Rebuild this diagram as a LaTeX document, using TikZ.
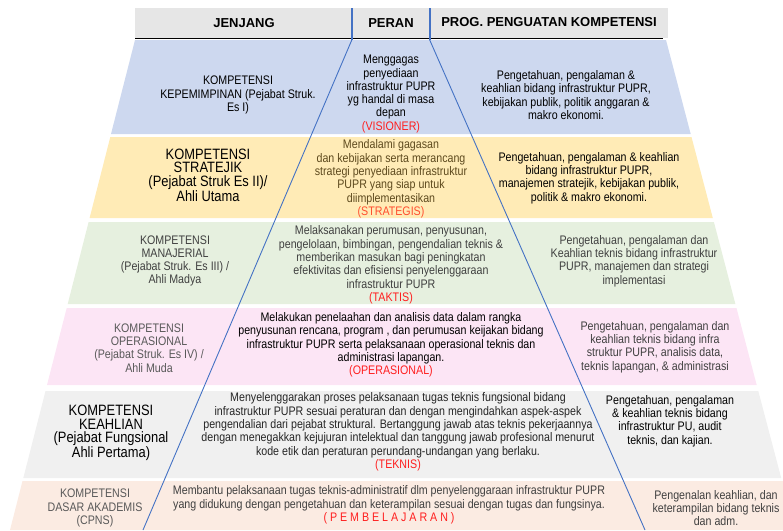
\documentclass[tikz,border=0pt]{standalone}
\usepackage{fontspec}
\setmainfont{Liberation Sans}
\newfontfamily\narrowsans[FakeStretch=0.86]{Liberation Sans}
\usetikzlibrary{positioning,calc}

\definecolor{hdrgray}{HTML}{E6E6E6}
\definecolor{bandA}{HTML}{CDD8EF}
\definecolor{bandB}{HTML}{FFEBB6}
\definecolor{bandC}{HTML}{E6F0DF}
\definecolor{bandD}{HTML}{FCE5F5}
\definecolor{bandE}{HTML}{F0F0F0}
\definecolor{bandF}{HTML}{FBEBE2}
\definecolor{lineblue}{HTML}{4472C4}
\definecolor{txtbrown}{HTML}{5E4A1E}
\definecolor{txtdark}{HTML}{404040}
\definecolor{txtgray}{HTML}{595959}
\definecolor{roleRed}{HTML}{FF1F1F}
\definecolor{roleOrange}{HTML}{FF4F2F}

\tikzset{font=\narrowsans\fontsize{12.4}{13.3}\selectfont}
\tikzset{
  txt/.style={align=center, inner sep=0pt},
  big/.style={align=center, inner sep=0pt, font=\narrowsans\fontsize{15}{13.6}\selectfont},
  hdr/.style={inner sep=0pt, font=\rmfamily\bfseries\fontsize{13}{15}\selectfont},
  sep/.style={draw=lineblue, line width=0.9pt},
}
\newcommand{\role}[2]{{\color{#1}#2}}

\begin{document}
\begin{tikzpicture}[x=1pt, y=-1pt]
	\useasboundingbox (0,0) rectangle (783,530);

	% header bar
	\fill[hdrgray] (135,8) rectangle (668,38);
	\draw[line width=1.6pt] (135,38.6) -- (663,38.6);
	\node[hdr] (jenjang) at (244,23) {JENJANG};
	\node[hdr] (peran) at (391,23) {PERAN};
	\node[hdr] (prog) at (549,22) {PROG. PENGUATAN KOMPETENSI};

	% bands of the pyramid
	\fill[bandA] (135,40) -- (666,40) -- (690.7,134) -- (111,134) -- cycle;
	\fill[bandB] (110.3,137) -- (691.5,137) -- (712.8,218) -- (89.6,218) -- cycle;
	\fill[bandC] (88.6,222) -- (713.9,222) -- (735.4,304) -- (67.7,304) -- cycle;
	\fill[bandD] (66.7,308) -- (736.5,308) -- (756.7,385) -- (47,385) -- cycle;
	\fill[bandE] (45.5,391) -- (758.3,391) -- (781.2,478) -- (23.3,478) -- cycle;
	\fill[bandF] (22.5,481) -- (783,481) -- (783,530) -- (10,530) -- cycle;

	% role dividers
	\coordinate (vl top) at (352,8);
	\coordinate (vr top) at (429.5,8);
	\coordinate (vl) at (352,39.5);
	\coordinate (vr) at (429.5,39.5);
	\coordinate (vl end) at (143,530);
	\coordinate (vr end) at (645,530);
	\draw[lineblue, line width=2pt] (vl top) -- (vl);
	\draw[lineblue, line width=2pt] (vr top) -- (vr);
	\draw[sep] (vl) -- (vl end);
	\draw[sep] (vr) -- (vr end);

	% row 1
	\node[txt] (jen1) at (238,95) {KOMPETENSI\\KEPEMIMPINAN (Pejabat Struk.\\Es I)};
	\node[txt] (per1) at (391,94) {Menggagas\\penyediaan\\infrastruktur PUPR\\yg handal di masa\\depan\\\role{roleRed}{(VISIONER)}};
	\node[txt] (prog1) at (566,95) {Pengetahuan, pengalaman \&\\keahlian bidang infrastruktur PUPR,\\kebijakan publik, politik anggaran \&\\makro ekonomi.};

	% row 2
	\node[big] (jen2) at (208,175) {KOMPETENSI\\STRATEJIK\\(Pejabat Struk Es II)/\\Ahli Utama};
	\node[txt, text=txtbrown] (per2) at (391,179) {Mendalami gagasan\\dan kebijakan serta merancang\\strategi penyediaan infrastruktur\\PUPR yang siap untuk\\diimplementasikan\\\role{roleOrange}{(STRATEGIS)}};
	\node[txt] (prog2) at (589,178) {Pengetahuan, pengalaman \& keahlian\\bidang infrastruktur PUPR,\\manajemen stratejik, kebijakan publik,\\politik \& makro ekonomi.};

	% row 3
	\node[txt, text=txtdark] (jen3) at (175,261) {KOMPETENSI\\MANAJERIAL\\(Pejabat Struk. Es III) /\\Ahli Madya};
	\node[txt, text=txtdark] (per3) at (391,265) {Melaksanakan perumusan, penyusunan,\\pengelolaan, bimbingan, pengendalian teknis \&\\memberikan masukan bagi peningkatan\\efektivitas dan efisiensi penyelenggaraan\\infrastruktur PUPR\\\role{roleRed}{(TAKTIS)}};
	\node[txt, text=txtdark] (prog3) at (634,261) {Pengetahuan, pengalaman dan\\Keahlian teknis bidang infrastruktur\\PUPR, manajemen dan strategi\\implementasi};

	% row 4
	\node[txt, text=txtgray] (jen4) at (149,348) {KOMPETENSI\\OPERASIONAL\\(Pejabat Struk. Es IV) /\\Ahli Muda};
	\node[txt] (per4) at (391,345) {Melakukan penelaahan dan analisis data dalam rangka\\penyusunan rencana, program , dan perumusan keijakan bidang\\infrastruktur PUPR serta pelaksanaan operasional teknis dan\\administrasi lapangan.\\\role{roleRed}{(OPERASIONAL)}};
	\node[txt, text=txtdark] (prog4) at (655,347) {Pengetahuan, pengalaman dan\\keahlian teknis bidang infra\\struktur PUPR, analisis data,\\teknis lapangan, \& administrasi};

	% row 5
	\node[big] (jen5) at (111,433) {KOMPETENSI\\KEAHLIAN\\(Pejabat Fungsional\\Ahli Pertama)};
	\node[txt, text=black!85] (per5) at (398,432) {Menyelenggarakan proses pelaksanaan tugas teknis fungsional bidang\\infrastruktur PUPR sesuai peraturan dan dengan mengindahkan aspek-aspek\\pengendalian dari pejabat struktural. Bertanggung jawab atas teknis pekerjaannya\\dengan menegakkan kejujuran intelektual dan tanggung jawab profesional menurut\\kode etik dan peraturan perundang-undangan yang berlaku.\\\role{roleRed}{(TEKNIS)}};
	\node[txt] (prog5) at (670,421) {Pengetahuan, pengalaman\\\& keahlian teknis bidang\\infrastruktur PU, audit\\teknis, dan kajian.};

	% row 6
	\node[txt, text=txtgray] (jen6) at (95,508) {KOMPETENSI\\DASAR AKADEMIS\\(CPNS)};
	\node[txt, text=txtdark] (per6) at (389,505) {Membantu pelaksanaan tugas teknis-administratif dlm penyelenggaraan infrastruktur PUPR\\yang didukung dengan pengetahuan dan keterampilan sesuai dengan tugas dan fungsinya.\\\role{roleRed}{( P E M B E L A J A R A N )}};
	\node[txt, text=txtdark] (prog6) at (716,508) {Pengenalan keahlian, dan\\keterampilan bidang teknis\\dan adm.};
\end{tikzpicture}
\end{document}
